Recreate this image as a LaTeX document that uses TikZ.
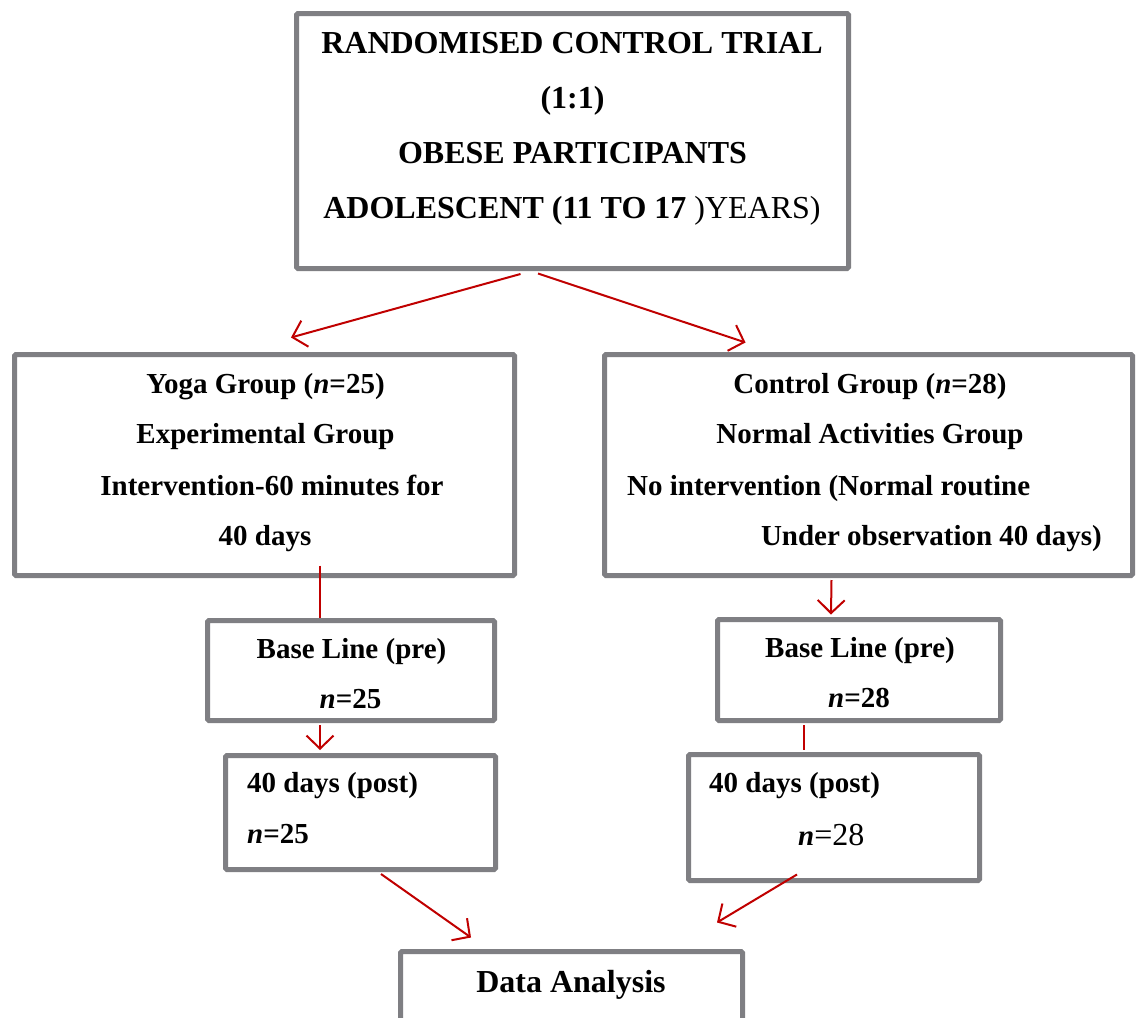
\documentclass[tikz,border=0pt]{standalone}
\usepackage{fontspec}
\setmainfont{Liberation Serif}
\usetikzlibrary{arrows.meta}
\definecolor{boxgray}{RGB}{127,127,131}
\definecolor{arrred}{RGB}{192,0,0}
\newcommand{\nbi}{{\bfseries\itshape n}}
\begin{document}
\begin{tikzpicture}[x=1pt,y=-1pt,
  box/.style={draw=boxgray, line width=5pt, rounded corners=1.5pt, inner sep=0pt, fill=white},
  txt/.style={inner sep=0pt, font=\fontsize{29}{34}\selectfont\bfseries},
  big/.style={inner sep=0pt, font=\fontsize{32}{36}\selectfont\bfseries},
  arr/.style={draw=arrred, line width=2pt, -{Straight Barb[length=13pt,width=27pt]}},
  ln/.style={draw=arrred, line width=2pt}]
\useasboundingbox (0,0) rectangle (1136,1018);

% boxes
\node[box, minimum width=552pt, minimum height=255pt] (top) at (572.5,141) {};
\node[box, minimum width=500pt, minimum height=221pt] (yoga) at (264.5,465) {};
\node[box, minimum width=528pt, minimum height=221pt] (ctrl) at (868.5,465) {};
\node[box, minimum width=287pt, minimum height=100pt] (byoga) at (351,670.5) {};
\node[box, minimum width=270pt, minimum height=114pt] (pyoga) at (360.5,812.5) {};
\node[box, minimum width=283pt, minimum height=101pt] (bctrl) at (859,670) {};
\node[box, minimum width=291pt, minimum height=126pt] (pctrl) at (834,817.5) {};
\node[box, minimum width=342pt, minimum height=86pt] (data) at (571.5,994.5) {};

% top text
\node[big, anchor=base] (t1) at (572,53) {RANDOMISED CONTROL TRIAL};
\node[big, anchor=base] (t2) at (572.5,108) {(1:1)};
\node[big, anchor=base] (t3) at (572.5,163) {OBESE PARTICIPANTS};
\node[big, anchor=base] (t4) at (572,218) {ADOLESCENT (11 TO 17 \mdseries)YEARS)};

% yoga group text
\node[txt, anchor=base] (y1) at (265.5,393) {Yoga Group (\nbi=25)};
\node[txt, anchor=base] (y2) at (265.5,443) {Experimental Group};
\node[txt, anchor=base] (y3) at (272,495) {Intervention-60 minutes for};
\node[txt, anchor=base] (y4) at (265,545) {40 days};

% control group text
\node[txt, anchor=base] (c1) at (870,393) {Control Group (\nbi=28)};
\node[txt, anchor=base] (c2) at (870,443) {Normal Activities Group};
\node[txt, anchor=base west] (c3) at (627,495) {No intervention (Normal routine};
\node[txt, anchor=base east] (c4) at (1102,545) {Under observation 40 days)};

% baseline / post yoga
\node[txt, anchor=base] (by1) at (351.5,658) {Base Line (pre)};
\node[txt, anchor=base] (by2) at (350.5,708) {\nbi=25};
\node[txt, anchor=base west] (py1) at (247,792) {40 days (post)};
\node[txt, anchor=base west] (py2) at (247,843) {\nbi=25};

% baseline / post control
\node[txt, anchor=base] (bc1) at (860,657) {Base Line (pre)};
\node[txt, anchor=base] (bc2) at (859,707) {\nbi=28};
\node[txt, anchor=base west] (pc1) at (709,792) {40 days (post)};
\node[txt, anchor=base west] (pc2) at (798,845) {\nbi{\mdseries\fontsize{32}{36}\selectfont=28}};

% data analysis
\node[big, anchor=base] (d1) at (571,992) {Data Analysis};

% connectors
\draw[arr] ([xshift=-52pt,yshift=-3pt]top.south) -- ([xshift=26.5pt,yshift=14.5pt]yoga.north);
\draw[arr] ([xshift=-34.5pt,yshift=-2.5pt]top.south) -- ([xshift=-123pt,yshift=9.5pt]ctrl.north);
\draw[ln] ([xshift=55.5pt,yshift=12.5pt]yoga.south) -- ([xshift=-31pt]byoga.north);
\draw[arr] ([xshift=-31pt,yshift=-2pt]byoga.south) -- ([xshift=-40.5pt,yshift=3pt]pyoga.north);
\draw[arr] ([xshift=-37pt,yshift=-2pt]ctrl.south) -- ([xshift=-28pt,yshift=2.5pt]bctrl.north);
\draw[ln] ([xshift=-55pt,yshift=-2pt]bctrl.south) -- ([xshift=-30pt,yshift=2.5pt]pctrl.north);
\draw[arr] ([xshift=20.5pt,yshift=-2pt]pyoga.south) -- ([xshift=-100.5pt,yshift=11.5pt]data.north);
\draw[arr] ([xshift=-37pt,yshift=8.5pt]pctrl.south) -- ([xshift=145.5pt,yshift=26.5pt]data.north);
\end{tikzpicture}
\end{document}
